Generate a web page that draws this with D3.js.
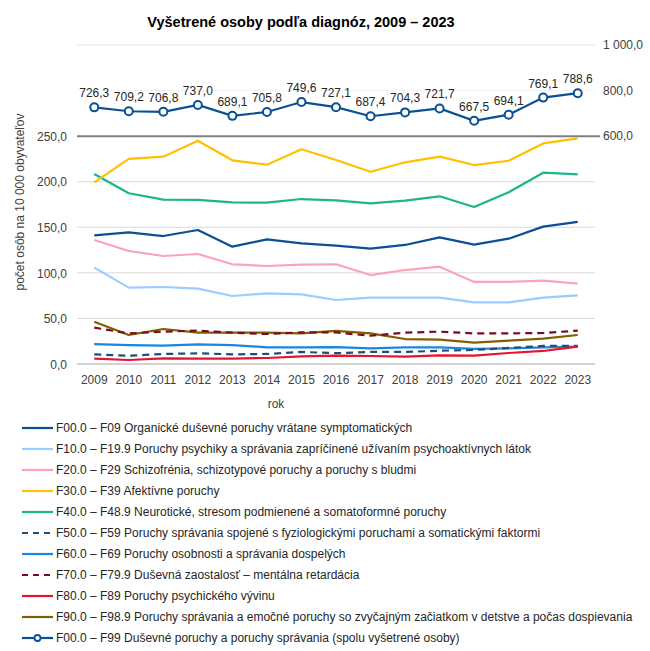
<!DOCTYPE html>
<html><head><meta charset="utf-8">
<script src="https://cdn.jsdelivr.net/npm/d3@7"></script>
<style>body{margin:0;background:#fff;} svg{font-family:"Liberation Sans",Arial,sans-serif;}</style>
</head><body><svg id="c" width="650" height="651"></svg>
<script>
const years = ["2009","2010","2011","2012","2013","2014","2015","2016","2017","2018","2019","2020","2021","2022","2023"];
const f00 = [141.2,144.5,140.4,147.0,128.7,136.8,132.4,129.8,126.5,130.6,139.0,131.0,137.5,150.7,156.0];
const f10 = [105.7,83.8,84.5,82.7,74.6,77.5,76.4,70.2,72.8,72.8,72.8,67.7,67.7,72.8,75.3];
const f20 = [136.0,124.0,118.5,120.7,109.4,107.5,109.0,109.4,97.6,103.1,106.8,90.0,90.0,91.4,88.1];
const f30 = [199.3,225.0,227.5,245.0,223.5,218.7,235.6,223.8,211.0,221.3,227.5,218.3,223.0,242.0,247.6];
const f40 = [208.5,187.3,180.3,180.0,177.4,177.0,181.0,179.6,176.3,179.2,184.0,172.3,188.4,209.9,208.1];
const f50 = [10.6,9.1,11.0,11.7,10.6,11.0,13.2,11.9,13.2,13.2,14.6,15.4,17.6,19.8,19.8];
const f60 = [21.9,20.8,20.1,21.6,20.8,18.3,18.3,18.6,17.2,18.3,18.3,16.5,17.2,18.3,19.0];
const f70 = [39.9,33.6,35.5,36.6,34.4,32.9,34.8,34.6,31.0,34.4,35.5,33.6,33.6,34.0,36.6];
const f80 = [5.9,4.4,6.2,5.9,5.9,6.6,8.4,9.1,8.8,8.1,9.5,9.1,12.1,14.3,19.0];
const f90 = [46.4,31.8,38.4,34.4,34.4,34.4,33.6,36.4,33.6,27.4,26.7,23.4,25.6,27.8,31.8];
const total = [726.3,709.2,706.8,737.0,689.1,705.8,749.6,727.1,687.4,704.3,721.7,667.5,694.1,769.1,788.6];
const leftTicks = [0,50,100,150,200,250];
const rightTicks = [600,800,1000];
const seriesNames = [
 "F00.0 – F09 Organické duševné poruchy vrátane symptomatických",
 "F10.0 – F19.9 Poruchy psychiky a správania zapríčinené užívaním psychoaktívnych látok",
 "F20.0 – F29 Schizofrénia, schizotypové poruchy a poruchy s bludmi",
 "F30.0 – F39 Afektívne poruchy",
 "F40.0 – F48.9 Neurotické, stresom podmienené a somatoformné poruchy",
 "F50.0 – F59 Poruchy správania spojené s fyziologickými poruchami a somatickými faktormi",
 "F60.0 – F69 Poruchy osobnosti a správania dospelých",
 "F70.0 – F79.9 Duševná zaostalosť – mentálna retardácia",
 "F80.0 – F89 Poruchy psychického vývinu",
 "F90.0 – F98.9 Poruchy správania a emočné poruchy so zvyčajným začiatkom v detstve a počas dospievania",
 "F00.0 – F99 Duševné poruchy a poruchy správania (spolu vyšetrené osoby)"
];
const seriesData = [f00,f10,f20,f30,f40,f50,f60,f70,f80,f90];
const colors = ["#0B4F94","#9ACDFF","#FAA5B5","#FFC000","#1CB58E","#1F4E79","#1B86E0","#7A0A1E","#E8132D","#7F6000","#0B4F94"];
const dashed = [false,false,false,false,false,true,false,true,false,false,false];

const svg = d3.select("#c");
const fmt = v => d3.format(",.1f")(v).replace(/,/g," ").replace(".",",");
const x = d3.scaleBand().domain(years).range([77,595]);
const cx = d => x(d)+x.bandwidth()/2;
const yL = d3.scaleLinear().domain([0,350]).range([364,45]);
const yR = d3.scaleLinear().domain([-400,1000]).range([364,45]);

svg.append("text").attr("x",301).attr("y",27).attr("text-anchor","middle")
  .attr("font-weight","bold").attr("font-size","14.5px").attr("fill","#000")
  .text("Vyšetrené osoby podľa diagnóz, 2009 – 2023");

// gridlines
[50,100,150,200].forEach(v=>{
  svg.append("line").attr("x1",77).attr("x2",595).attr("y1",yL(v)).attr("y2",yL(v)).attr("stroke","#d9d9d9").attr("stroke-width",1);
});
svg.append("line").attr("x1",77).attr("x2",595).attr("y1",yR(1000)).attr("y2",yR(1000)).attr("stroke","#e3e3e3").attr("stroke-width",1);
svg.append("line").attr("x1",77).attr("x2",595).attr("y1",yR(800)).attr("y2",yR(800)).attr("stroke","#f2f2f2").attr("stroke-width",1);
svg.append("line").attr("x1",77).attr("x2",595).attr("y1",yL(0)).attr("y2",yL(0)).attr("stroke","#a6a6a6").attr("stroke-width",1);
svg.append("line").attr("x1",77).attr("x2",600).attr("y1",yL(250)).attr("y2",yL(250)).attr("stroke","#7f7f7f").attr("stroke-width",2);

// left axis
const gl = svg.append("g").attr("transform","translate(70,0)")
  .call(d3.axisLeft(yL).tickValues(leftTicks).tickSize(0).tickFormat(fmt));
gl.select(".domain").remove();
gl.selectAll("text").attr("font-size","12px").attr("fill","#404040").attr("font-family","Liberation Sans, Arial, sans-serif").attr("x",-3).attr("dy","0.35em");
// right axis
const gr = svg.append("g").attr("transform","translate(599,0)")
  .call(d3.axisRight(yR).tickValues(rightTicks).tickSize(0).tickFormat(fmt));
gr.select(".domain").remove();
gr.selectAll("text").attr("font-size","12px").attr("fill","#404040").attr("font-family","Liberation Sans, Arial, sans-serif").attr("x",4);
// x axis
const gx = svg.append("g").attr("transform","translate(0,364)")
  .call(d3.axisBottom(x).tickSize(0));
gx.select(".domain").remove();
gx.selectAll("text").attr("font-size","12px").attr("fill","#404040").attr("font-family","Liberation Sans, Arial, sans-serif").attr("y",11).attr("dy","0.71em");

svg.append("text").attr("x",276).attr("y",408).attr("text-anchor","middle").attr("font-size","12px").attr("fill","#404040").text("rok");
svg.append("text").attr("transform","translate(24,202) rotate(-90)").attr("text-anchor","middle").attr("font-size","12px").attr("fill","#404040").text("počet osôb na 10 000 obyvateľov");

const line = d3.line().x((d,i)=>cx(years[i])).y(d=>yL(d));
const order = [9,7,6,5,8,1,2,0,4,3];
order.forEach(k=>{
  svg.append("path").datum(seriesData[k]).attr("d",line).attr("fill","none")
    .attr("stroke",colors[k]).attr("stroke-width",2.2)
    .attr("stroke-dasharray",dashed[k]?"7,5":null).attr("stroke-linejoin","round");
});
const lineR = d3.line().x((d,i)=>cx(years[i])).y(d=>yR(d));
svg.append("path").datum(total).attr("d",lineR).attr("fill","none").attr("stroke",colors[10]).attr("stroke-width",2.2);
svg.selectAll(".pt").data(total).enter().append("circle")
  .attr("cx",(d,i)=>cx(years[i])).attr("cy",d=>yR(d)).attr("r",4)
  .attr("fill","#fff").attr("stroke",colors[10]).attr("stroke-width",2);
svg.selectAll(".lbl").data(total).enter().append("text")
  .attr("x",(d,i)=>cx(years[i])).attr("y",d=>yR(d)-10)
  .attr("text-anchor","middle").attr("font-size","12px").attr("fill","#262626").text(fmt);

// legend
seriesNames.forEach((n,i)=>{
  const yy = 428 + i*21;
  const g = svg.append("g");
  g.append("line").attr("x1",22).attr("x2",53).attr("y1",yy).attr("y2",yy)
    .attr("stroke",colors[i]).attr("stroke-width",2.2)
    .attr("stroke-dasharray",dashed[i]?"6,5":null);
  if(i===10) g.append("circle").attr("cx",37.5).attr("cy",yy).attr("r",3).attr("fill","#fff").attr("stroke",colors[i]).attr("stroke-width",1.8);
  g.append("text").attr("x",56).attr("y",yy+4).attr("font-size","12px").attr("fill","#262626").text(n);
});
</script></body></html>
